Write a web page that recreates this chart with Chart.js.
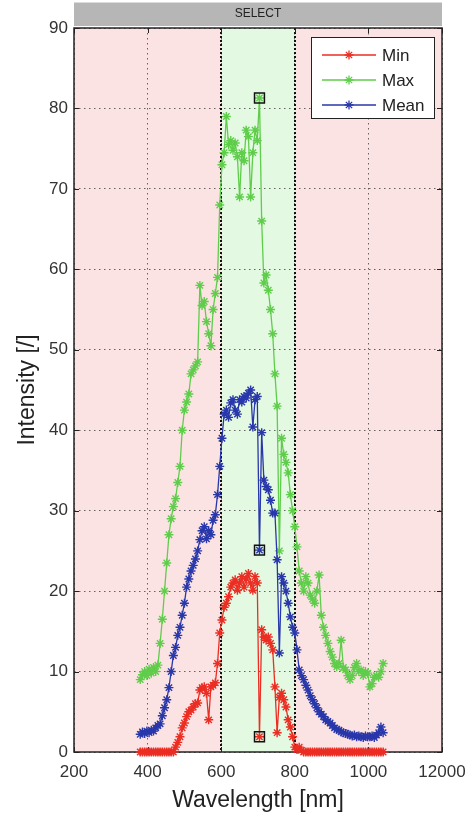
<!DOCTYPE html>
<html>
<head>
<meta charset="utf-8">
<script src="https://cdn.jsdelivr.net/npm/chart.js@4.4.1/dist/chart.umd.min.js"></script>
<style>
  html, body { margin: 0; padding: 0; background: #fff; }
  canvas { display: block; }
</style>
</head>
<body>
<canvas id="chart" width="474" height="814"></canvas>
<script>
// Wavelength samples [nm]
const wavelengths = [
  380, 386, 392, 398, 404, 410, 416, 422, 428, 434,
  440, 446, 452, 458, 464, 470, 476, 482, 488, 494,
  500, 506, 512, 518, 524, 530, 536, 542, 548, 554,
  560, 566, 572, 578, 584, 590, 596, 602, 608, 614,
  620, 626, 632, 638, 644, 650, 656, 662, 668, 674,
  680, 686, 692, 698, 704, 710, 716, 722, 728, 734,
  740, 746, 752, 758, 764, 770, 776, 782, 788, 794,
  800, 806, 812, 818, 824, 830, 836, 842, 848, 854,
  860, 866, 872, 878, 884, 890, 896, 902, 908, 914,
  920, 926, 932, 938, 944, 950, 956, 962, 968, 974,
  980, 986, 992, 998, 1004, 1010, 1016, 1022, 1028, 1034,
  1040
];

const minValues = [
  0, 0, 0, 0, 0, 0, 0, 0, 0, 0,
  0, 0, 0, 0, 0, 0, 0.6, 1.2, 1.9, 3.0,
  3.6, 4.4, 5.0, 5.2, 5.6, 6.0, 6.1, 7.7, 8.0, 8.1,
  7.3, 4.0, 8.1, 8.3, 8.6, 11.0, 14.8, 16.4, 18.0, 18.5,
  19.3, 20.5, 21.0, 21.4, 20.1, 21.0, 21.8, 20.5, 21.5, 22.2,
  21.0, 20.1, 21.8, 21.0, 1.9, 15.2, 14.3, 13.9, 14.3, 13.5,
  12.7, 8.1, 2.4, 6.8, 7.3, 6.5, 5.6, 4.0, 3.1, 1.9,
  0.6, 0.3, 0.6, 0.2, 0, 0, 0, 0, 0, 0,
  0, 0, 0, 0, 0, 0, 0, 0, 0, 0,
  0, 0, 0, 0, 0, 0, 0, 0, 0, 0,
  0, 0, 0, 0, 0, 0, 0, 0, 0, 0,
  0
];

const maxValues = [
  9.0, 9.6, 10.0, 9.5, 10.3, 9.8, 10.5, 10.0, 10.8, 13.5,
  16.5, 20.0, 23.5, 27.0, 29.0, 30.5, 31.5, 33.5, 35.5, 40.0,
  42.5, 43.5, 44.5, 47.0, 47.5, 48.0, 48.5, 58.0, 55.5, 56.0,
  53.5, 52.0, 50.5, 55.0, 57.0, 59.0, 68.0, 73.0, 74.5, 79.0,
  75.5, 76.0, 74.8, 75.7, 74.0, 69.0, 74.5, 73.5, 77.3, 76.5,
  69.0, 74.5, 77.3, 76.0, 81.3, 66.0, 58.3, 59.3, 57.4, 55.0,
  52.0, 47.0, 43.0, 25.0, 39.0, 37.0, 36.0, 34.7, 32.0, 30.0,
  28.0, 25.5, 22.5, 21.0, 20.0, 21.8, 21.0, 19.5, 19.0, 18.5,
  20.0, 22.0, 17.0, 15.5, 14.5, 13.5, 12.5, 11.8, 11.0, 10.6,
  11.0, 13.9, 10.5, 10.2, 9.5, 9.0, 9.5, 10.5, 11.0, 10.0,
  10.2, 9.5, 10.0, 9.8, 8.1, 8.5, 9.3, 9.5, 9.3, 10.0,
  11.0
];

const meanValues = [
  2.2, 2.5, 2.3, 2.6, 2.4, 2.7, 2.6, 3.0, 3.3, 3.5,
  4.5, 5.5, 6.5, 8.0, 10.0, 12.0, 13.0, 14.5, 15.5, 17.0,
  18.5, 20.5, 21.5, 22.5, 23.2, 24.0, 25.0, 26.4, 27.5, 28.0,
  26.5, 27.5, 27.0, 28.8, 29.5, 32.0, 35.5, 39.0, 42.0, 42.5,
  41.6, 43.4, 43.8, 42.5, 42.0, 43.8, 43.5, 44.2, 44.0, 44.6,
  45.0, 40.4, 43.8, 44.2, 25.1, 39.7, 33.8, 33.0, 32.6, 31.3,
  29.7, 29.7, 23.9, 12.3, 21.8, 21.0, 20.0, 18.5, 16.8, 15.5,
  14.8, 12.7, 10.2, 9.5, 9.0, 8.3, 7.7, 7.0, 6.5, 6.0,
  5.5, 5.0, 4.7, 4.4, 4.0, 3.8, 3.6, 3.3, 3.0, 2.8,
  2.7, 2.5, 2.4, 2.3, 2.2, 2.1, 2.0, 2.1, 1.9, 2.0,
  1.9, 1.8, 2.0, 1.9, 1.9, 2.0, 1.8, 2.1, 2.4, 3.1,
  2.4
];

const seriesNames = ["Min", "Max", "Mean"];
const seriesColors = ["rgb(235, 45, 35)", "rgb(95, 205, 75)", "rgb(40, 55, 170)"];
const selectedWavelength = 704;
const bandStart = 600, bandEnd = 800;
const xTicks = [200, 400, 600, 800, 1000, 1200];
const xTickLabels = ["200", "400", "600", "800", "1000", "12000"];

const FONT = "'Liberation Sans', Arial, sans-serif";
const toPoints = (vals) => vals.map((v, i) => ({ x: wavelengths[i], y: v }));
const selIdx = wavelengths.indexOf(selectedWavelength);

// Draw an asterisk marker like matlab's '*'
const drawStar = (ctx, x, y, r, color) => {
  ctx.save();
  ctx.strokeStyle = color;
  ctx.lineWidth = 1.3;
  ctx.beginPath();
  ctx.moveTo(x - r, y); ctx.lineTo(x + r, y);
  ctx.moveTo(x, y - r); ctx.lineTo(x, y + r);
  const d = r * 0.7;
  ctx.moveTo(x - d, y - d); ctx.lineTo(x + d, y + d);
  ctx.moveTo(x - d, y + d); ctx.lineTo(x + d, y - d);
  ctx.stroke();
  ctx.restore();
};

const decorPlugin = {
  id: "decor",
  beforeDraw(chart) {
    const { ctx, chartArea: a, scales: { x } } = chart;
    ctx.save();
    // pink background + green selected band
    ctx.fillStyle = "rgb(252, 227, 227)";
    ctx.fillRect(a.left, a.top, a.width, a.height);
    const x0 = x.getPixelForValue(bandStart), x1 = x.getPixelForValue(bandEnd);
    ctx.fillStyle = "rgb(227, 249, 225)";
    ctx.fillRect(x0, a.top, x1 - x0, a.height);
    // SELECT bar
    ctx.fillStyle = "rgb(182, 182, 182)";
    ctx.fillRect(a.left, a.top - 26, a.width, 24);
    ctx.fillStyle = "rgb(220, 220, 220)";
    ctx.fillRect(a.left, a.top - 26, a.width, 1);
    ctx.fillStyle = "#222";
    ctx.font = "12px " + FONT;
    ctx.textAlign = "center";
    ctx.textBaseline = "middle";
    ctx.fillText("SELECT", (a.left + a.right) / 2, a.top - 14);
    ctx.restore();
  },
  beforeDatasetsDraw(chart) {
    const { ctx, chartArea: a, scales: { x, y } } = chart;
    ctx.save();
    // band edges
    ctx.strokeStyle = "#111";
    ctx.lineWidth = 2;
    ctx.setLineDash([2, 2]);
    [bandStart, bandEnd].forEach(v => {
      const px = Math.round(x.getPixelForValue(v));
      ctx.beginPath();
      ctx.moveTo(px, a.top); ctx.lineTo(px, a.bottom);
      ctx.stroke();
    });
    ctx.setLineDash([]);
    // axes box
    ctx.strokeStyle = "#222";
    ctx.lineWidth = 1.5;
    ctx.strokeRect(a.left, a.top, a.width, a.height);
    // inner ticks
    ctx.lineWidth = 1;
    ctx.beginPath();
    xTicks.forEach(v => {
      const px = Math.round(x.getPixelForValue(v)) + 0.5;
      ctx.moveTo(px, a.bottom); ctx.lineTo(px, a.bottom - 5);
      ctx.moveTo(px, a.top); ctx.lineTo(px, a.top + 5);
    });
    for (let v = 0; v <= 90; v += 10) {
      const py = Math.round(y.getPixelForValue(v)) + 0.5;
      ctx.moveTo(a.left, py); ctx.lineTo(a.left + 5, py);
      ctx.moveTo(a.right, py); ctx.lineTo(a.right - 5, py);
    }
    ctx.stroke();
    ctx.restore();
  },
  afterDraw(chart) {
    const { ctx, chartArea: a } = chart;
    // legend box
    const bx = a.right - 131, by = a.top + 9, bw = 123, bh = 81;
    ctx.save();
    ctx.fillStyle = "#fff";
    ctx.fillRect(bx, by, bw, bh);
    ctx.strokeStyle = "#222";
    ctx.lineWidth = 1;
    ctx.strokeRect(bx + 0.5, by + 0.5, bw, bh);
    ctx.font = "17px " + FONT;
    ctx.textAlign = "left";
    ctx.textBaseline = "middle";
    seriesNames.forEach((name, i) => {
      const ry = by + 18 + i * 25;
      ctx.strokeStyle = seriesColors[i];
      ctx.lineWidth = 1.3;
      ctx.beginPath();
      ctx.moveTo(bx + 11, ry); ctx.lineTo(bx + 65, ry);
      ctx.stroke();
      drawStar(ctx, bx + 38, ry, 4.5, seriesColors[i]);
      ctx.fillStyle = "#222";
      ctx.fillText(name, bx + 71, ry + 1);
    });
    ctx.restore();
  }
};

const makeSeries = (i, vals) => ({
  label: seriesNames[i],
  data: toPoints(vals),
  borderColor: seriesColors[i],
  backgroundColor: seriesColors[i],
  borderWidth: 1.3,
  pointStyle: "star",
  pointRadius: 4.5,
  pointBorderWidth: 1.4,
  pointBorderColor: seriesColors[i],
  tension: 0,
  clip: false
});

new Chart(document.getElementById("chart").getContext("2d"), {
  type: "line",
  data: {
    datasets: [
      {
        label: "selected",
        data: [
          { x: selectedWavelength, y: minValues[selIdx] },
          { x: selectedWavelength, y: maxValues[selIdx] },
          { x: selectedWavelength, y: meanValues[selIdx] }
        ],
        showLine: false,
        pointStyle: "rect",
        pointRadius: 7,
        pointBorderWidth: 1.5,
        pointBorderColor: "#111",
        pointBackgroundColor: "rgba(0,0,0,0)",
        clip: false
      },
      makeSeries(0, minValues),
      makeSeries(2, meanValues),
      makeSeries(1, maxValues)
    ]
  },
  options: {
    responsive: false,
    animation: false,
    events: [],
    layout: { padding: { left: 0, right: 32, top: 28, bottom: 0 } },
    plugins: { legend: { display: false }, tooltip: { enabled: false } },
    scales: {
      x: {
        type: "linear",
        min: 200,
        max: 1200,
        afterBuildTicks: (s) => { s.ticks = xTicks.map(v => ({ value: v })); },
        afterFit: (s) => { s.paddingLeft = 0; s.paddingRight = 0; s.height = 62; },
        ticks: {
          color: "#333",
          font: { family: FONT, size: 17 },
          padding: 10,
          maxRotation: 0,
          callback: (v) => xTickLabels[xTicks.indexOf(v)]
        },
        grid: { color: "rgba(40,40,40,0.7)", lineWidth: 1, drawTicks: false },
        border: { display: false, dash: [1.5, 3.5] },
        title: {
          display: true,
          text: "Wavelength [nm]",
          color: "#222",
          font: { family: FONT, size: 23 },
          padding: { top: 0, bottom: 0 }
        }
      },
      y: {
        min: 0,
        max: 90,
        afterFit: (s) => { s.width = 74; },
        ticks: {
          stepSize: 10,
          color: "#333",
          font: { family: FONT, size: 17 },
          padding: 6
        },
        grid: { color: "rgba(40,40,40,0.7)", lineWidth: 1, drawTicks: false },
        border: { display: false, dash: [1.5, 3.5] },
        title: {
          display: true,
          text: "Intensity [/]",
          color: "#222",
          font: { family: FONT, size: 23 },
          padding: { top: 14, bottom: 0 }
        }
      }
    }
  },
  plugins: [decorPlugin]
});
</script>
</body>
</html>
